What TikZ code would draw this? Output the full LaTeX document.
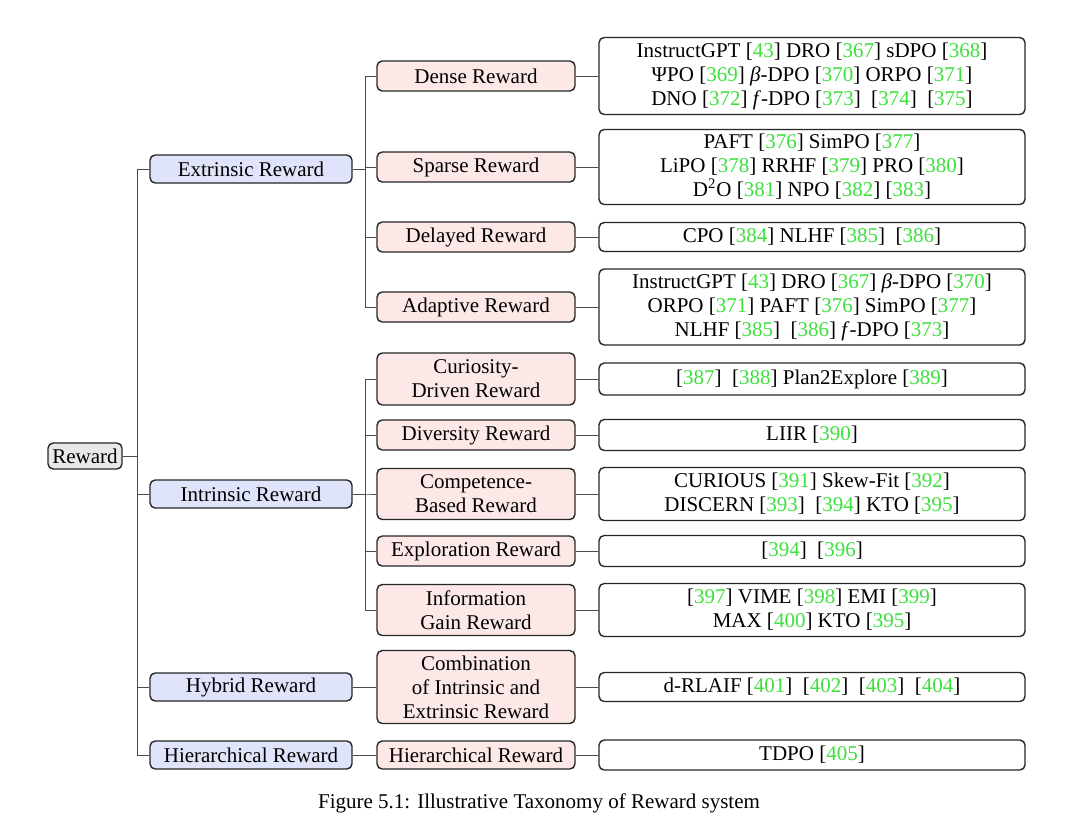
\documentclass[tikz,border=0pt]{standalone}
\usepackage{fontspec}
\setmainfont{Liberation Serif}
\usepackage{xcolor}
\usetikzlibrary{calc}
\definecolor{rootgray}{RGB}{232,232,232}
\definecolor{extblue}{RGB}{224,228,250}
\definecolor{subpink}{RGB}{252,232,230}
\definecolor{citegreen}{RGB}{60,225,60}
\newcommand{\rcite}[1]{[\textcolor{citegreen}{#1}]}
\tikzset{
   box/.style={draw=black!85, line width=0.7pt, rounded corners=2.6pt, align=center,
               inner sep=1pt, font=\fontsize{10.5}{12}\selectfont},
   rootbox/.style={box, fill=rootgray, minimum width=37pt, minimum height=13pt},
   kindbox/.style={box, fill=extblue, minimum width=101pt, minimum height=14pt},
   subbox/.style={box, fill=subpink, minimum width=99pt, minimum height=15pt},
   leafbox/.style={box, fill=white, minimum width=213pt, minimum height=15pt},
   link/.style={draw=black!70, line width=0.5pt}
}
\begin{document}
\begin{tikzpicture}[x=0.5pt,y=-0.5pt]
\useasboundingbox (0,0) rectangle (1080,835);

% root
\node[rootbox] (reward) at (85,456) {Reward};

% first level
\node[kindbox] (extr) at (251,169) {Extrinsic Reward};
\node[kindbox] (intr) at (251,494) {Intrinsic Reward};
\node[kindbox] (hybr) at (251,687) {Hybrid Reward};
\node[kindbox] (hier) at (251,755) {Hierarchical Reward};

% second level
\node[subbox] (dense) at (476,76) {Dense Reward};
\node[subbox] (sparse) at (476,167) {Sparse Reward};
\node[subbox] (delay) at (476,237) {Delayed Reward};
\node[subbox] (adapt) at (476,307) {Adaptive Reward};
\node[subbox, minimum height=26pt] (curio) at (476,379) {Curiosity-\\Driven Reward};
\node[subbox] (divers) at (476,435) {Diversity Reward};
\node[subbox, minimum height=25.5pt] (compet) at (476,494) {Competence-\\Based Reward};
\node[subbox] (explor) at (476,551) {Exploration Reward};
\node[subbox, minimum height=25.5pt] (info) at (476,610) {Information\\Gain Reward};
\node[subbox, minimum height=36.5pt] (combi) at (476,687) {Combination\\of Intrinsic and\\Extrinsic Reward};
\node[subbox, minimum height=14pt] (hiersub) at (476,755) {Hierarchical Reward};

% leaves
\node[leafbox, minimum height=38.5pt] (denseL) at (812,76)
  {InstructGPT \rcite{43} DRO \rcite{367} sDPO \rcite{368}\\
   ΨPO \rcite{369} \textit{β}-DPO \rcite{370} ORPO \rcite{371}\\
   DNO \rcite{372} \textit{f}-DPO \rcite{373}~ \rcite{374}~ \rcite{375}};
\node[leafbox, minimum height=37.5pt] (sparseL) at (812,167)
  {PAFT \rcite{376} SimPO \rcite{377}\\
   LiPO \rcite{378} RRHF \rcite{379} PRO \rcite{380}\\
   D\textsuperscript{2}O \rcite{381} NPO \rcite{382} \rcite{383}};
\node[leafbox, minimum height=14.5pt] (delayL) at (812,237)
  {CPO \rcite{384} NLHF \rcite{385}~ \rcite{386}};
\node[leafbox, minimum height=38pt] (adaptL) at (812,307)
  {InstructGPT \rcite{43} DRO \rcite{367} \textit{β}-DPO \rcite{370}\\
   ORPO \rcite{371} PAFT \rcite{376} SimPO \rcite{377}\\
   NLHF \rcite{385}~ \rcite{386} \textit{f}-DPO \rcite{373}};
\node[leafbox, minimum height=16pt] (curioL) at (812,379)
  {\rcite{387}~ \rcite{388} Plan2Explore \rcite{389}};
\node[leafbox, minimum height=15.5pt] (diversL) at (812,435)
  {LIIR \rcite{390}};
\node[leafbox, minimum height=26.5pt] (competL) at (812,494)
  {CURIOUS \rcite{391} Skew-Fit \rcite{392}\\
   DISCERN \rcite{393}~ \rcite{394} KTO \rcite{395}};
\node[leafbox, minimum height=15.5pt] (explorL) at (812,551)
  {\rcite{394}~ \rcite{396}};
\node[leafbox, minimum height=26.5pt] (infoL) at (812,610)
  {\rcite{397} VIME \rcite{398} EMI \rcite{399}\\
   MAX \rcite{400} KTO \rcite{395}};
\node[leafbox, minimum height=14.5pt] (combiL) at (812,687)
  {d-RLAIF \rcite{401}~ \rcite{402}~ \rcite{403}~ \rcite{404}};
\node[leafbox, minimum height=15pt] (hiersubL) at (812,755)
  {TDPO \rcite{405}};

% caption
\node[font=\fontsize{10.5}{12}\selectfont] (caption) at (539,803)
  {Figure 5.1: Illustrative Taxonomy of Reward system};

% tree links
\foreach \k in {extr,intr,hybr,hier}
  \draw[link] (reward.east) -- ++(15,0) |- (\k.west);
\foreach \s in {dense,sparse,delay,adapt}
  \draw[link] (extr.east) -- ++(13,0) |- (\s.west);
\foreach \s in {curio,divers,compet,explor,info}
  \draw[link] (intr.east) -- ++(13,0) |- (\s.west);
\draw[link] (hybr) -- (combi);
\draw[link] (hier) -- (hiersub);
\foreach \s in {dense,sparse,delay,adapt,curio,divers,compet,explor,info,combi,hiersub}
  \draw[link] (\s) -- (\s L);

\end{tikzpicture}
\end{document}
